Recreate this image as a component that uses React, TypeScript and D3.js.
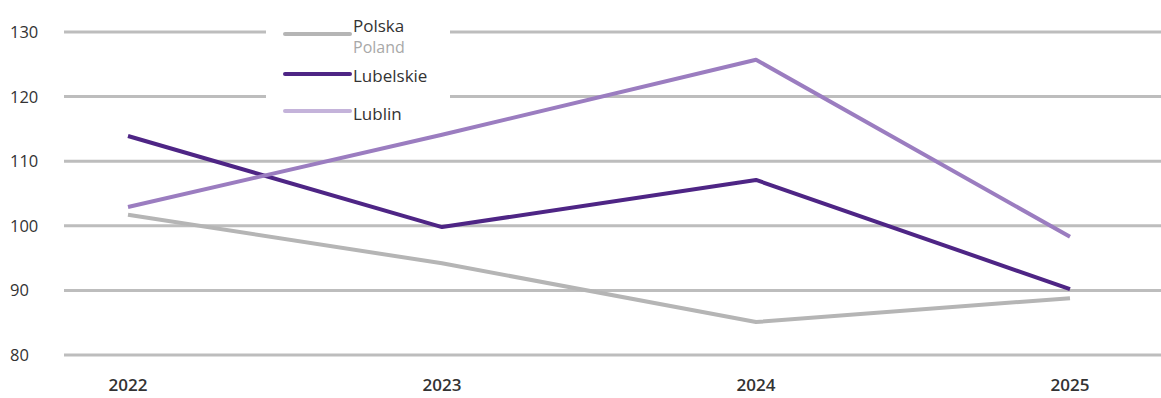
import React from 'react';
import * as d3 from 'd3';

const years = ['2022', '2023', '2024', '2025'];
const yTicks = [80, 90, 100, 110, 120, 130];

const polska = [101.7, 94.2, 85.1, 88.8];
const lubelskie = [113.9, 99.8, 107.1, 90.2];
const lublin = [102.9, 114.1, 125.7, 98.3];

const series = [
  { key: 'polska', values: polska, color: '#b5b5b5', swatch: '#b5b5b5', label: 'Polska', sub: 'Poland' },
  { key: 'lubelskie', values: lubelskie, color: '#4e2585', swatch: '#4e2585', label: 'Lubelskie', sub: '' },
  { key: 'lublin', values: lublin, color: '#9b7dc0', swatch: '#c4b3da', label: 'Lublin', sub: '' },
];

const W = 1161;
const H = 398;
const font = '"Open Sans", "Noto Sans", sans-serif';

const App: React.FC = () => {
  const x = d3.scalePoint<string>().domain(years).range([128, 1070]);
  const y = d3.scaleLinear().domain([80, 130]).range([355, 32]);

  const line = d3.line<number>()
    .x((_, i) => x(years[i]) as number)
    .y(d => y(d));

  // legend rows
  const legendRows = [
    { lineY: 34, textY: 32 },
    { lineY: 74, textY: 82 },
    { lineY: 111, textY: 120 },
  ];

  return (
    <>
      <style>{`body{margin:0}`}</style>
      <svg width={W} height={H} style={{ display: 'block', background: '#fff' }}>
        {/* grid */}
        {yTicks.map(t => (
          <g key={t}>
            <line x1={64} x2={W} y1={y(t)} y2={y(t)} stroke="#bdbdbd" strokeWidth={3} />
            <text x={10} y={y(t) + 6} fontFamily={font} fontSize={16.5} fontWeight={500} fill="#333">{t}</text>
          </g>
        ))}

        {/* legend background */}
        <rect x={266} y={12} width={184} height={112} fill="#fff" />

        {/* series */}
        {series.map(s => (
          <path key={s.key} d={line(s.values) || ''} fill="none" stroke={s.color} strokeWidth={4} strokeLinejoin="round" />
        ))}

        {/* x labels */}
        {years.map(yr => (
          <text key={yr} x={x(yr)} y={391} textAnchor="middle" fontFamily={font} fontSize={17} fontWeight={600} fill="#333">{yr}</text>
        ))}

        {/* legend */}
        {series.map((s, i) => (
          <g key={s.key}>
            <line x1={285} x2={350} y1={legendRows[i].lineY} y2={legendRows[i].lineY} stroke={s.swatch} strokeWidth={4} strokeLinecap="round" />
            <text x={353} y={legendRows[i].textY} fontFamily={font} fontSize={17} fontWeight={500} fill="#333">{s.label}</text>
            {s.sub && (
              <text x={353} y={legendRows[i].textY + 21} fontFamily={font} fontSize={16} fill="#a8a8a8">{s.sub}</text>
            )}
          </g>
        ))}
      </svg>
    </>
  );
};

export default App;
